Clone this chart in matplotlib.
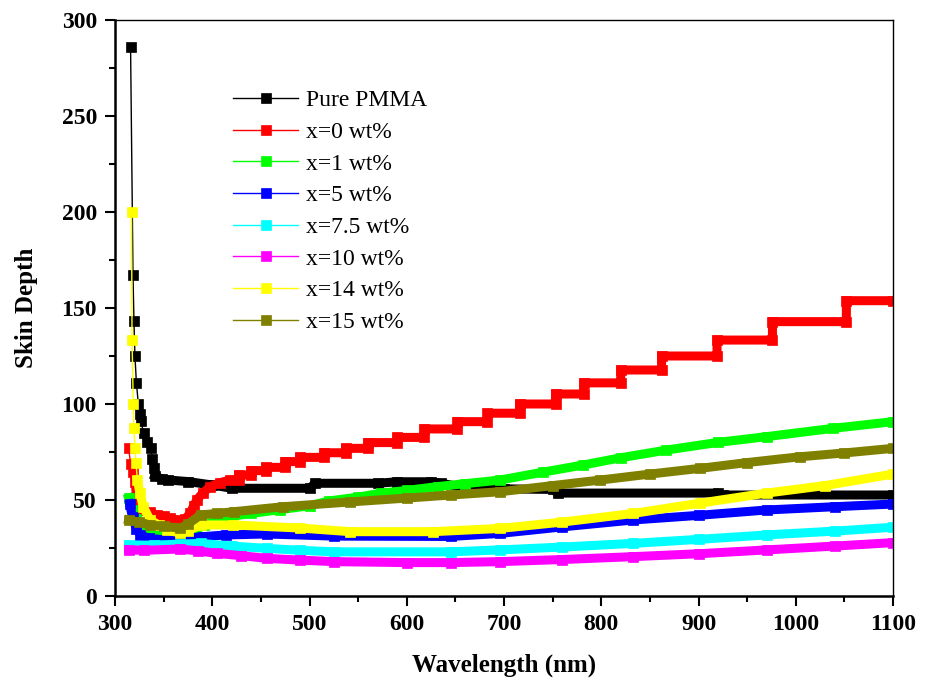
import matplotlib
matplotlib.use("Agg")
import matplotlib.pyplot as plt
from matplotlib.ticker import MultipleLocator
import numpy as np

plt.rcParams['font.family'] = ['Liberation Serif', 'DejaVu Serif']

labels = ['Pure PMMA', 'x=0 wt%', 'x=1 wt%', 'x=5 wt%', 'x=7.5 wt%',
          'x=10 wt%', 'x=14 wt%', 'x=15 wt%']
colors = ['#000000', '#ff0000', '#00ff00', '#0000ff', '#00ffff',
          '#ff00ff', '#ffff00', '#808000']

# wavelength (nm) / skin depth
pmma_x = [316, 318.5, 319.5, 320.5, 322, 324, 325.5, 326.5, 329.5, 333, 336.5,
          338.5, 340, 341, 348, 355, 375, 400, 420, 500, 506, 570, 590, 625,
          635, 660, 700, 750, 755, 920, 925, 1100]
pmma_y = [286, 167, 143, 125, 111, 100, 95, 91, 85, 80.4, 77,
          71.5, 66.5, 62.5, 61, 60.4, 59.6, 57.8, 56.1, 56.1, 58.7, 58.7, 59.5, 59.5,
          58.7, 56.5, 55.8, 55.5, 53.6, 53.6, 52.6, 52.6]

x0_x = [314, 316, 318.3, 321, 322, 325, 329, 336, 343, 350, 356.5, 362, 367,
        372, 377, 381, 384, 390, 398, 408, 418,
        427, 427, 440, 440, 455, 455, 475, 475, 490, 490, 515, 515, 537, 537,
        560, 560, 590, 590, 618, 618, 652, 652, 683, 683, 716, 716, 753, 753,
        782, 782, 820, 820, 862, 862, 919, 919, 976, 976, 1052, 1052, 1100]
x0_y = [77, 69, 64.4, 59.5, 50, 47, 44.8, 43.5, 42.2, 41.5, 40.5, 39.8, 38.7,
        40, 43, 47, 50, 53.5, 57, 59, 60.4,
        60.4, 63, 63, 65.3, 65.3, 67, 67, 70, 70, 72.2, 72.2, 74.6, 74.6, 76.9,
        76.9, 79.9, 79.9, 82.6, 82.6, 87, 87, 90.8, 90.8, 95.2, 95.2, 100, 100, 105.2,
        105.2, 111, 111, 117.7, 117.7, 125, 125, 133.3, 133.3, 142.9, 142.9, 153.8, 153.8]

x1_x = [314, 318, 322, 326, 331, 340, 352, 367, 375, 383, 392, 403, 420, 440,
        470, 500, 520, 550, 573, 600, 632, 660, 696, 740, 781, 820, 867, 920,
        970, 1038, 1100]
x1_y = [51, 45, 40, 37, 35.3, 33.5, 32.6, 31.8, 33, 34.4, 37, 39, 41.5, 43,
        45, 47, 49.5, 51.5, 53.5, 55, 57, 58.5, 60.4, 64.5, 68.2, 72, 76, 80,
        83, 87.3, 90.8]

x5_x = [315, 318, 322, 326, 335, 352, 367, 390, 414, 456, 525, 645, 696, 760,
        833, 900, 970, 1040, 1100]
x5_y = [48, 41, 35, 31.8, 30, 29.2, 30, 30.9, 31.8, 32.3, 31.2, 31, 32.6, 36,
        39.6, 42, 44.8, 46.5, 47.9]

x75_x = [314, 340, 367, 388, 420, 456, 490, 525, 645, 696, 760, 833, 900,
         970, 1040, 1100]
x75_y = [26.5, 26.5, 27, 27.4, 26, 24.8, 23.8, 23, 23, 24, 25.5, 27.4, 29.5,
         31.8, 33.8, 35.8]

x10_x = [314, 330, 367, 385, 405, 430, 456, 490, 525, 600, 645, 696, 760,
         833, 900, 970, 1040, 1100]
x10_y = [24, 23.8, 24.5, 23.5, 22.2, 21, 19.6, 18.7, 17.9, 17.4, 17.4, 17.9,
         19, 20.5, 22, 24, 26, 27.8]

x14_x = [317, 317.5, 318.8, 319.4, 320.5, 321.6, 323, 325.7, 329, 336, 345,
         353, 367, 375, 388, 421, 490, 542, 627, 696, 760, 833, 902, 970,
         1030, 1100]
x14_y = [200, 133.5, 100, 87.3, 77, 69.4, 60.4, 53.5, 46.5, 39.6, 37,
         34.4, 32.8, 34, 37, 37, 35.4, 33.5, 33.5, 35.2, 38.5, 43, 48.4, 53.6,
         57.5, 63.5]

x15_x = [314, 325, 336, 350, 367, 375, 388, 405, 422, 473, 542, 600, 645,
         696, 750, 799, 850, 902, 950, 1004, 1050, 1100]
x15_y = [39.6, 38.5, 37, 36.3, 35.3, 37.5, 42.2, 43, 43.9, 46.5, 49, 51,
         52.6, 54.3, 57.5, 60.4, 63.5, 66.5, 69.5, 72.5, 74.5, 76.9]

series_x = [pmma_x, x0_x, x1_x, x5_x, x75_x, x10_x, x14_x, x15_x]
series_y = [pmma_y, x0_y, x1_y, x5_y, x75_y, x10_y, x14_y, x15_y]
# where the dense (band-like) part of each curve starts
band_from = [341, 321, 314, 315, 314, 314, 323, 314]

fig = plt.figure(figsize=(9.32, 6.82), dpi=100)
ax = fig.add_axes([0.1234, 0.1261, 0.8348, 0.8446])

for xs, ys, c, lab, b in zip(series_x, series_y, colors, labels, band_from):
    xs = np.array(xs)
    ys = np.array(ys)
    ax.plot(xs, ys, color=c, lw=1, marker='s', ms=6.5, mec=c, mew=0.5,
            label=lab)
    m = xs >= b
    ax.plot(xs[m], ys[m], color=c, lw=6.5, solid_joinstyle='miter',
            solid_capstyle='projecting')

ax.set_xlim(300, 1100)
ax.set_ylim(0, 300)
ax.xaxis.set_major_locator(MultipleLocator(100))
ax.xaxis.set_minor_locator(MultipleLocator(50))
ax.yaxis.set_major_locator(MultipleLocator(50))
ax.yaxis.set_minor_locator(MultipleLocator(25))
ax.tick_params(which='major', direction='out', length=7, width=1.5,
               labelsize=17, pad=6)
ax.tick_params(which='minor', direction='out', length=4, width=1.5)
for t in ax.get_xticklabels() + ax.get_yticklabels():
    t.set_fontweight('bold')
for s in ['left', 'bottom']:
    ax.spines[s].set_linewidth(1.8)
for s in ['top', 'right']:
    ax.spines[s].set_linewidth(1.0)

ax.set_xlabel('Wavelength (nm)', fontsize=18, fontweight='bold', labelpad=13)
ax.set_ylabel('Skin Depth', fontsize=18, fontweight='bold', labelpad=17)

ax.legend(loc='upper left', bbox_to_anchor=(0.152, 0.879), frameon=False,
          fontsize=17, handlelength=2.75, handletextpad=0.35, labelspacing=0.43,
          borderpad=0, borderaxespad=0)

fig.savefig('out.png', dpi=100)
